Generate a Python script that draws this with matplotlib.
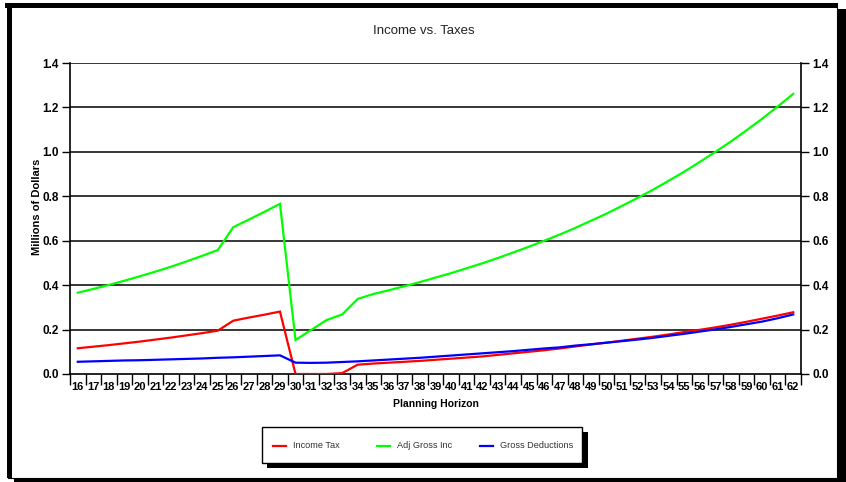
import matplotlib
matplotlib.use("Agg")
import matplotlib.pyplot as plt
from matplotlib.patches import Rectangle
from matplotlib.lines import Line2D
from matplotlib.ticker import FormatStrFormatter, FixedLocator

# ---------------- data ----------------
years = list(range(16, 63))

income_tax = [0.116, 0.123, 0.130, 0.138, 0.146, 0.155, 0.164, 0.174, 0.184, 0.195,
              0.240, 0.254, 0.267, 0.281,
              0.000, 0.000, 0.000, 0.004, 0.042,
              0.047, 0.051, 0.055, 0.059, 0.064, 0.069, 0.074, 0.079, 0.086, 0.093,
              0.100, 0.107, 0.115, 0.124, 0.133, 0.141, 0.150, 0.159, 0.168, 0.178,
              0.189, 0.199, 0.210, 0.222, 0.235, 0.249, 0.263, 0.278]

adj_gross_inc = [0.366, 0.383, 0.401, 0.420, 0.440, 0.461, 0.483, 0.507, 0.532, 0.558,
                 0.661, 0.695, 0.730, 0.766,
                 0.153, 0.198, 0.243, 0.268, 0.338,
                 0.360, 0.377, 0.395, 0.414, 0.434, 0.454, 0.476, 0.498, 0.522, 0.547,
                 0.573, 0.600, 0.628, 0.658, 0.690, 0.722, 0.757, 0.793, 0.830, 0.870,
                 0.911, 0.955, 1.000, 1.047, 1.097, 1.149, 1.204, 1.261]

gross_deductions = [0.055, 0.057, 0.059, 0.061, 0.062, 0.064, 0.066, 0.068, 0.070, 0.073,
                    0.075, 0.078, 0.081, 0.084,
                    0.051, 0.050, 0.051, 0.054, 0.057,
                    0.061, 0.065, 0.069, 0.073, 0.078, 0.083, 0.088, 0.093, 0.098, 0.103,
                    0.109, 0.115, 0.120, 0.128, 0.134, 0.141, 0.148, 0.155, 0.163, 0.172,
                    0.181, 0.191, 0.201, 0.212, 0.224, 0.236, 0.251, 0.268]

series_names = ["Income Tax", "Adj Gross Inc", "Gross Deductions"]
series_colors = ["#FF0000", "#00FF00", "#0000FF"]
y_ticks = [0.0, 0.2, 0.4, 0.6, 0.8, 1.0, 1.2, 1.4]

# ---------------- figure ----------------
W, H = 846, 482
plt.rcParams['font.family'] = ['Liberation Sans', 'DejaVu Sans']
fig = plt.figure(figsize=(W / 100, H / 100), dpi=100)
fig.patch.set_facecolor('white')


def fx(x):
    return x / W


def fy(y):
    return 1 - y / H


def frect(x0, y0, x1, y1, **kw):
    r = Rectangle((fx(x0), fy(y1)), fx(x1) - fx(x0), fy(y0) - fy(y1),
                  transform=fig.transFigure, **kw)
    fig.patches.append(r)
    return r


# outer frame with shadow
frect(14, 9, 846, 482, facecolor='black', edgecolor='none', zorder=0)
frect(8, 5, 837, 478, facecolor='white', edgecolor='black', linewidth=0.8, zorder=1)
frect(5, 3, 838, 7.5, facecolor='black', edgecolor='none', zorder=2)
frect(7, 3, 12, 478, facecolor='black', edgecolor='none', zorder=2)

# axes
L, R, T, B = 70, 801, 63, 374
ax = fig.add_axes([fx(L), fy(B), fx(R) - fx(L), fy(T) - fy(B)])
ax.set_zorder(5)
ax.patch.set_alpha(0)

x = list(range(len(years)))
lines = []
for vals, name, col in zip([income_tax, adj_gross_inc, gross_deductions], series_names, series_colors):
    ln, = ax.plot(x, vals, color=col, linewidth=1.6, label=name, solid_joinstyle='miter', zorder=3)
    lines.append(ln)

ax.set_xlim(-0.5, len(years) - 0.5)
ax.set_ylim(0, 1.4)
ax.set_yticks(y_ticks)
ax.yaxis.set_major_formatter(FormatStrFormatter('%.1f'))
for yt in y_ticks[1:]:
    ax.axhline(yt, color='black', linewidth=1.1, zorder=1)

ax.set_xticks(x)
ax.set_xticklabels([str(v) for v in years])
ax.xaxis.set_minor_locator(FixedLocator([i - 0.5 for i in range(len(years) + 1)]))
ax.tick_params(axis='x', which='major', length=0, pad=5.5, labelsize=8)
ax.tick_params(axis='x', which='minor', length=8, width=1, direction='out', color='black')
for t in ax.get_xticklabels():
    t.set_fontweight('bold')
    t.set_horizontalalignment('center')

ax.tick_params(axis='y', which='major', left=True, right=True, labelleft=True, labelright=True,
               direction='out', length=6, width=1, labelsize=8.5, pad=2)
for t in ax.get_yticklabels():
    t.set_fontweight('bold')

for side in ['left', 'right', 'bottom']:
    ax.spines[side].set_linewidth(1.2)
    ax.spines[side].set_color('black')
ax.spines['top'].set_visible(False)

fig.text(fx(435.5), fy(404), "Planning Horizon", ha='center', va='center',
         fontsize=7.5, fontweight='bold')
fig.text(fx(37), fy(207), "Millions of Dollars", rotation=90, ha='center', va='center',
         fontsize=8, fontweight='bold')

fig.text(fx(424), fy(31), "Income vs. Taxes", ha='center', va='center', fontsize=9.5, color='#222222')

# legend box with shadow (entries drawn from the series' own lines)
frect(267, 432, 588, 468, facecolor='black', edgecolor='none', zorder=3)
frect(262, 427, 582, 463, facecolor='white', edgecolor='black', linewidth=1.0, zorder=4)
leg_x = [273, 377, 480]
leg_y = 445.5
for lx, ln in zip(leg_x, lines):
    fig.lines.append(Line2D([fx(lx), fx(lx + 13)], [fy(leg_y), fy(leg_y)], transform=fig.transFigure,
                            color=ln.get_color(), linewidth=1.6, zorder=6))
    fig.text(fx(lx + 20), fy(leg_y), ln.get_label(), ha='left', va='center', fontsize=6.6,
             color='#333333', zorder=6)

fig.savefig("out.png", dpi=100)
